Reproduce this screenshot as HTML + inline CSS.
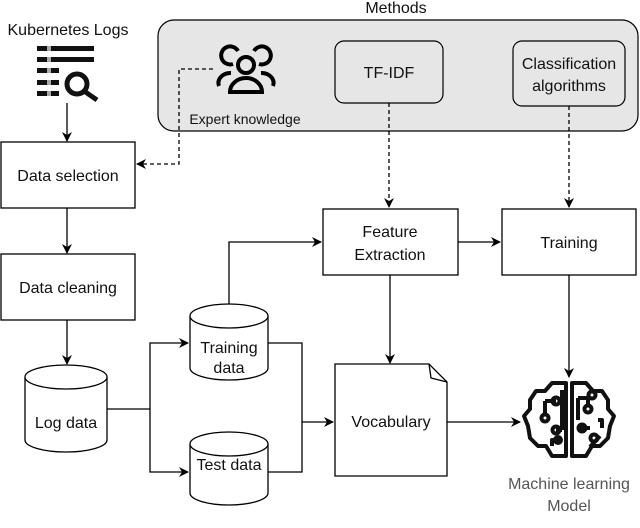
<!DOCTYPE html>
<html><head><style>
body{margin:0;width:640px;height:523px;background:#fff;overflow:hidden}
svg text{font-family:"Liberation Sans",sans-serif;font-size:16px;fill:#111}
</style></head><body>
<svg width="640" height="523" viewBox="0 0 640 523" xmlns="http://www.w3.org/2000/svg">
<defs>
<marker id="a" markerWidth="10" markerHeight="10" refX="9" refY="5" orient="auto" markerUnits="userSpaceOnUse"><path d="M0,0 L10,5 L0,10 L3,5 z" fill="#000"/></marker>
</defs>
<text x="396" y="13" text-anchor="middle">Methods</text>
<rect x="158" y="20" width="480" height="111" rx="16" fill="#e6e6e6" stroke="#000" stroke-width="1.2"/>
<rect x="335" y="41" width="108" height="62" rx="9" fill="#e6e6e6" stroke="#000" stroke-width="1.2"/>
<text x="389" y="78" text-anchor="middle">TF-IDF</text>
<rect x="513" y="41" width="112" height="65" rx="9" fill="#e6e6e6" stroke="#000" stroke-width="1.2"/>
<text x="569" y="69" text-anchor="middle">Classification</text>
<text x="569" y="91" text-anchor="middle">algorithms</text>
<!-- people icon -->
<g fill="none" stroke="#000" stroke-width="4">
<circle cx="246" cy="65" r="8"/>
<path d="M230,92 a16,14 0 0 1 32,0 z"/>
<path d="M233,64 a9,9 0 1 1 5,-13"/>
<path d="M259,64 a9,9 0 1 0 -5,-13"/>
<path d="M219,86 a12,10 0 0 1 12,-13"/>
<path d="M273,86 a12,10 0 0 0 -12,-13"/>
</g>
<text x="245" y="124" text-anchor="middle" style="font-size:14px">Expert knowledge</text>
<!-- kubernetes -->
<text x="68" y="35" text-anchor="middle">Kubernetes Logs</text>
<g fill="#111">
<rect x="37" y="46" width="57" height="5"/><rect x="37" y="57" width="57" height="5"/>
<rect x="37" y="68" width="22" height="5"/><rect x="37" y="80" width="22" height="5"/><rect x="37" y="91" width="22" height="5"/>
</g>
<g fill="#aaa"><rect x="47" y="46" width="4" height="5"/><rect x="47" y="57" width="4" height="5"/><rect x="47" y="68" width="4" height="5"/><rect x="47" y="80" width="4" height="5"/><rect x="47" y="91" width="4" height="5"/></g>
<circle cx="77" cy="84" r="10" fill="none" stroke="#111" stroke-width="5"/>
<line x1="84" y1="91" x2="97" y2="100" stroke="#111" stroke-width="5"/>
<g stroke="#000" stroke-width="1.3" fill="none">
<line x1="67" y1="103" x2="67" y2="141" marker-end="url(#a)"/>
<rect x="1" y="142" width="134" height="66" fill="#fff"/>
<line x1="67" y1="208" x2="67" y2="253" marker-end="url(#a)"/>
<rect x="1" y="254" width="134" height="66" fill="#fff"/>
<line x1="67" y1="320" x2="67" y2="364" marker-end="url(#a)"/>
<path d="M213,69 H179 V164 H137" stroke-dasharray="4,3" marker-end="url(#a)"/>
<path d="M389,103 V207" stroke-dasharray="4,3" marker-end="url(#a)"/>
<path d="M569,106 V207" stroke-dasharray="4,3" marker-end="url(#a)"/>
<!-- log data cylinder -->
<path d="M25,377 V440 A41,12 0 0 0 107,440 V377" fill="#fff"/>
<ellipse cx="66" cy="377" rx="41" ry="12" fill="#fff"/>
<path d="M190,316 V368 A39,12 0 0 0 268,368 V316" fill="#fff"/>
<ellipse cx="229" cy="316" rx="39" ry="12" fill="#fff"/>
<path d="M190,444 V493 A39,12 0 0 0 268,493 V444" fill="#fff"/>
<ellipse cx="229" cy="444" rx="39" ry="12" fill="#fff"/>
<path d="M107,409 H150 V343 H188" marker-end="url(#a)"/>
<path d="M150,409 V472 H188" marker-end="url(#a)"/>
<path d="M268,343 H302 V422"/>
<path d="M268,472 H302 V422 H333" marker-end="url(#a)"/>
<path d="M229,304 V242 H321" marker-end="url(#a)"/>
<rect x="323" y="209" width="135" height="66" fill="#fff"/>
<rect x="502" y="209" width="134" height="66" fill="#fff"/>
<line x1="458" y1="242" x2="500" y2="242" marker-end="url(#a)"/>
<line x1="390" y1="275" x2="390" y2="363" marker-end="url(#a)"/>
<path d="M335,364 H429 L447,382 V476 H335 Z" fill="#fff"/>
<path d="M429,364 L431,378 L447,382"/>
<line x1="447" y1="422" x2="520" y2="422" marker-end="url(#a)"/>
<line x1="569" y1="275" x2="569" y2="377" marker-end="url(#a)"/>
</g>
<text x="68" y="181" text-anchor="middle">Data selection</text>
<text x="68" y="293" text-anchor="middle">Data cleaning</text>
<text x="66" y="428" text-anchor="middle">Log data</text>
<text x="229" y="353" text-anchor="middle">Training</text>
<text x="229" y="373" text-anchor="middle">data</text>
<text x="229" y="470" text-anchor="middle">Test data</text>
<text x="390" y="237" text-anchor="middle">Feature</text>
<text x="390" y="260" text-anchor="middle">Extraction</text>
<text x="569" y="248" text-anchor="middle">Training</text>
<text x="391" y="427" text-anchor="middle">Vocabulary</text>
<!-- brain -->
<g fill="none" stroke="#111" stroke-width="4" stroke-linejoin="round">
<path d="M566,383 L552,383 L545,391 L536,391 L530,400 L530,409 L524,416 L528,426 L530,438 L538,446 L546,446 L552,456 L566,456 Z"/>
<path d="M572,383 L586,383 L593,391 L602,391 L608,400 L608,409 L614,416 L610,426 L608,438 L600,446 L592,446 L586,456 L572,456 Z"/>
<path d="M545,401 H556 M545,401 V414"/><circle cx="545" cy="418" r="3.5"/>
<circle cx="556" cy="401" r="3.5"/>
<path d="M562,390 V430 M556,430 H562"/><circle cx="556" cy="430" r="3.5"/>
<path d="M552,446 V440 H562"/><circle cx="558" cy="440" r="3"/>
<path d="M578,398 H588 V405"/><circle cx="588" cy="409" r="3.5"/>
<path d="M578,398 V420"/><circle cx="592" cy="395" r="3.5"/>
<path d="M578,428 H590"/><circle cx="582" cy="428" r="3.5"/>
<path d="M598,420 H602 V428 M590,447 L600,436"/><circle cx="594" cy="438" r="3.5"/>
</g>
<text x="569" y="489" text-anchor="middle" style="fill:#555">Machine learning</text>
<text x="569" y="511" text-anchor="middle" style="fill:#555">Model</text>
</svg>
</body></html>
